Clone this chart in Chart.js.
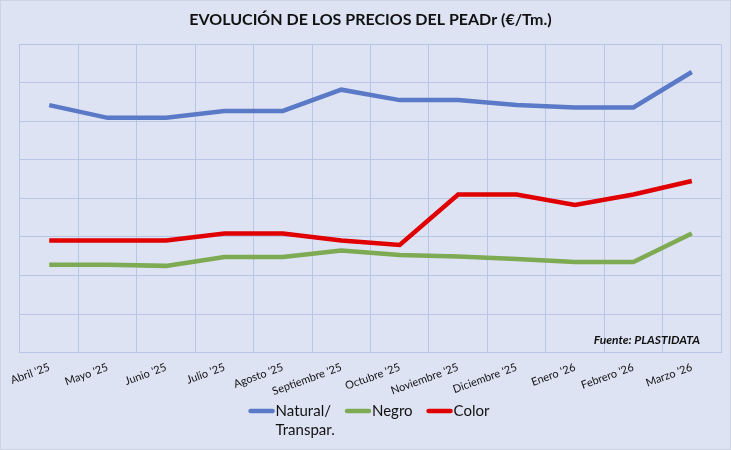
<!DOCTYPE html>
<html>
<head>
<meta charset="utf-8">
<script src="https://cdn.jsdelivr.net/npm/chart.js@4"></script>
<style>
  html, body { margin: 0; padding: 0; background: #dde3f3; }
  #wrap { width: 731px; height: 450px; position: relative; }
</style>
</head>
<body>
<div id="wrap"><canvas id="c" width="731" height="450"></canvas></div>
<script>
const categories = ["Abril '25", "Mayo '25", "Junio '25", "Julio '25", "Agosto '25", "Septiembre '25", "Octubre '25", "Noviembre '25", "Diciembre '25", "Enero '26", "Febrero '26", "Marzo '26"];
const natural = [6.42, 6.09, 6.09, 6.27, 6.27, 6.82, 6.55, 6.55, 6.42, 6.36, 6.36, 7.28];
const negro = [2.28, 2.28, 2.25, 2.48, 2.48, 2.65, 2.53, 2.49, 2.43, 2.35, 2.35, 3.09];
const color = [2.91, 2.91, 2.91, 3.09, 3.09, 2.91, 2.79, 4.10, 4.10, 3.83, 4.10, 4.45];
const seriesNames = [["Natural/", "Transpar."], "Negro", "Color"];
const seriesColors = ["#5a79c6", "#7daa52", "#e00000"];

Chart.defaults.font.family = "Lato, 'Liberation Sans', sans-serif";
Chart.defaults.color = "#1a1a1a";

const bgPlugin = {
  id: 'bg',
  beforeDraw(chart) {
    const ctx = chart.ctx;
    ctx.save();
    ctx.fillStyle = '#dde3f3';
    ctx.fillRect(0, 0, chart.width, chart.height);
    ctx.strokeStyle = '#cdd3e3';
    ctx.lineWidth = 1;
    ctx.strokeRect(0.5, 0.5, chart.width - 1, chart.height - 1);
    ctx.restore();
  }
};
const sourcePlugin = {
  id: 'source',
  afterDatasetsDraw(chart) {
    const ctx = chart.ctx;
    const a = chart.chartArea;
    ctx.save();
    ctx.font = "italic bold 12px Lato, sans-serif";
    ctx.fillStyle = '#111';
    ctx.textAlign = 'right';
    ctx.textBaseline = 'middle';
    ctx.fillText('Fuente: PLASTIDATA', a.right - 21, a.bottom - 12);
    ctx.restore();
  }
};
// Custom legend with multi-line label support
const legendPlugin = {
  id: 'customLegend',
  afterDraw(chart) {
    const ctx = chart.ctx;
    ctx.save();
    ctx.font = "15px Lato, sans-serif";
    ctx.textBaseline = 'middle';
    ctx.textAlign = 'left';
    const boxW = 25, gapBox = 2, gapItem = 14;
    const items = chart.data.datasets.map(ds => {
      const lines = Array.isArray(ds.label) ? ds.label : [ds.label];
      const w = ctx.measureText(lines[0]).width;
      return { lines, color: ds.borderColor, w };
    });
    const total = items.reduce((s, it) => s + boxW + gapBox + it.w, 0) + gapItem * (items.length - 1);
    let x = 369 - total / 2;
    const y0 = 411, lh = 19;
    items.forEach(it => {
      ctx.strokeStyle = it.color;
      ctx.lineWidth = 4.5;
      ctx.lineCap = 'round';
      ctx.beginPath();
      ctx.moveTo(x + 2, y0);
      ctx.lineTo(x + boxW - 1, y0);
      ctx.stroke();
      ctx.fillStyle = '#111';
      it.lines.forEach((l, k) => ctx.fillText(l, x + boxW + gapBox, y0 + k * lh));
      x += boxW + gapBox + it.w + gapItem;
    });
    ctx.restore();
  }
};

const datasetsSrc = [natural, negro, color];
new Chart(document.getElementById('c'), {
  type: 'line',
  data: {
    labels: categories,
    datasets: datasetsSrc.map((d, i) => ({
      label: seriesNames[i],
      data: d,
      borderColor: seriesColors[i],
      backgroundColor: seriesColors[i],
      borderWidth: 4.5,
      pointRadius: 0,
      tension: 0,
      fill: false
    }))
  },
  options: {
    responsive: false,
    animation: false,
    layout: { padding: { left: 20, right: 10, top: 4, bottom: 44 } },
    plugins: {
      title: {
        display: true,
        text: 'EVOLUCIÓN DE LOS PRECIOS DEL PEADr (€/Tm.)',
        font: { size: 16, weight: 'bold' },
        color: '#111',
        padding: { top: 6, bottom: 15 }
      },
      legend: { display: false },
      tooltip: { enabled: false }
    },
    scales: {
      x: {
        offset: true,
        grid: { offset: true, color: '#b8c5e4', drawTicks: false },
        border: { display: false },
        ticks: { minRotation: 20, maxRotation: 20, font: { size: 11 }, color: '#111', padding: 8 }
      },
      y: {
        min: 0, max: 8,
        grid: { color: '#b8c5e4', drawTicks: false },
        border: { display: false },
        ticks: { display: false, stepSize: 1 }
      }
    }
  },
  plugins: [bgPlugin, sourcePlugin, legendPlugin]
});
</script>
</body>
</html>
